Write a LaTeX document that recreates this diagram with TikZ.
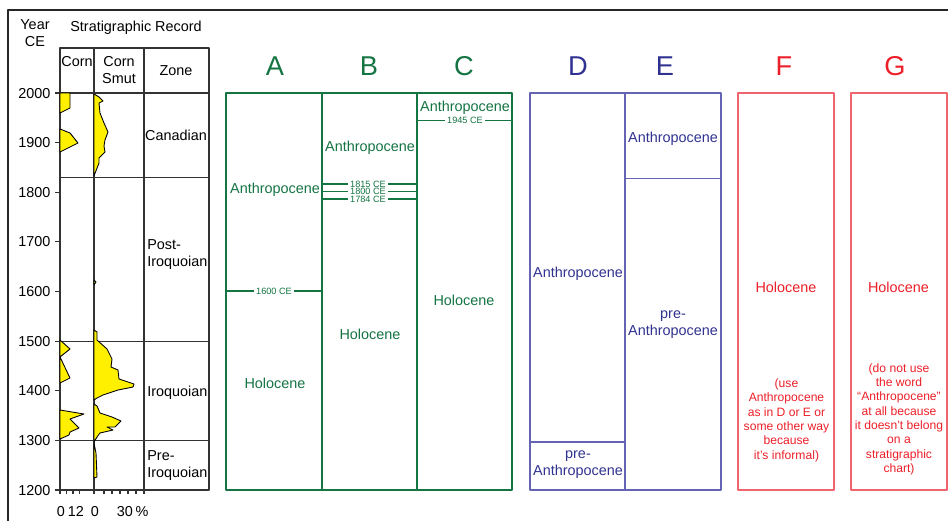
\documentclass[tikz,border=0pt]{standalone}
\usepackage{fontspec}
\setmainfont{Liberation Sans}
\definecolor{grn}{RGB}{20,116,66}
\definecolor{blu}{RGB}{48,50,145}
\definecolor{bluline}{RGB}{100,100,178}
\definecolor{rd}{RGB}{236,30,40}
\definecolor{rdline}{RGB}{240,100,110}
\definecolor{smut}{RGB}{255,240,0}
\newcommand{\yy}[1]{93+(2000-#1)*0.49625}
\tikzset{
  txt/.style={font=\fontsize{8.2}{9.6}\selectfont, inner sep=0pt, text depth=0pt, align=center},
  tag/.style={font=\fontsize{5.2}{5.2}\selectfont, fill=white, inner xsep=1.5pt, inner ysep=0pt},
  letter/.style={font=\fontsize{15.5}{15.5}\selectfont, inner sep=0pt},
  note/.style={font=\fontsize{6.9}{8.15}\selectfont, inner sep=0pt, text depth=0pt, align=center},
  curve/.style={fill=smut, draw=black, line width=0.5pt},
}
\begin{document}
\begin{tikzpicture}[x=0.02cm,y=-0.02cm,line join=round]
\useasboundingbox (0,0) rectangle (948,521);
\draw[line width=1pt,black!85] (948,10)--(8,10)--(8,521);
% stratigraphic record
\node[txt] (year) at (35,33) {Year\\CE};
\node[txt] (record) at (136,26) {Stratigraphic Record};
\begin{scope}[line width=0.6pt,black!80]
\draw (60,48) rectangle (209,490) (94,48)--(94,490) (144,48)--(144,490);
\foreach \z in {2000,1830,1500,1300} \draw (60,{\yy{\z}})--(209,{\yy{\z}});
\foreach \t in {2000,1900,...,1200} {
  \draw (55,{\yy{\t}})--(60,{\yy{\t}});
  \node[txt,anchor=east,text=black] (y\t) at (51,{\yy{\t}}) {\t};
}
\foreach \x in {60,66.5,73,79.5,94,104,112,...,144} \draw (\x,490)--(\x,494);
\end{scope}
\node[txt] (corn) at (77,61) {Corn};
\node[txt] (smut) at (119,70) {Corn\\Smut};
\node[txt] (zone) at (176,71) {Zone};
\node[txt] (canadian) at (176,135) {Canadian};
\node[txt,anchor=west,align=left] (post) at (147,253) {Post-\\Iroquoian};
\node[txt,anchor=west] (iroq) at (147,391) {Iroquoian};
\node[txt,anchor=west,align=left] (pre) at (147,464) {Pre-\\Iroquoian};
\foreach \x/\l [count=\i] in {61/0,76/12,95/0,125/30,142/\%} \node[txt] (ax\i) at (\x,511) {\l};
% corn
\draw[curve] (60,93)--(70,93)--(70,108)--(60,113)--cycle;
\draw[curve] (60,129)--(70,133)--(78,143)--(60,152)--cycle;
\draw[curve] (60,340)--(70,349)--(60,357)--(70,378)--(60,383)--cycle;
\draw[curve] (60,410)--(84,414)--(70,419)--(79,428)--(70,432)--(69,435)--(60,439)--cycle;
% corn smut
\draw[curve] (94,94)--(99,97)--(103,101)--(99,103)--(100,113)--(104,123)--(108,132)--(105,140)--(104,146)--(105,152)--(99,158)--(99,163)--(94,176)--cycle;
\draw[curve] (94,280)--(96,282)--(94,285)--cycle;
\draw[curve] (94,330)--(97,332)--(97,340)--(107,349)--(112,359)--(111,367)--(118,370)--(119,379)--(125,381)--(134,384)--(133,387)--(118,390)--(103,395)--(97,398)--(94,400)--cycle;
\draw[curve] (94,404)--(97,406)--(100,413)--(112,417)--(121,421)--(115,427)--(107,427)--(113,430)--(100,433)--(97,437)--(94,442)--cycle;
\draw[curve] (94,443)--(96,453)--(97,477)--(94,478)--cycle;
% A B C
\begin{scope}[grn,line width=0.7pt]
\draw (226,93) rectangle (512,490) (322,93)--(322,490) (417,93)--(417,490);
\draw (226,291)--(322,291) (417,120.5)--(512,120.5);
\foreach \y in {184,191.5,199} \draw (322,\y)--(417,\y);
\end{scope}
\foreach \l/\x in {A/275,B/369,C/464} \node[letter,text=grn] (\l) at (\x,66) {\l};
\begin{scope}[every node/.style={text=grn}]
\node[txt] (antA) at (275,188) {Anthropocene};
\node[txt] (holA) at (275,383) {Holocene};
\node[tag] (tA) at (274,291) {1600 CE};
\node[txt] (antB) at (370,146) {Anthropocene};
\node[txt] (holB) at (370,334) {Holocene};
\node[tag] (tB1) at (368,184) {1815 CE};
\node[tag] (tB2) at (368,191.5) {1800 CE};
\node[tag] (tB3) at (368,199) {1784 CE};
\node[txt] (antC) at (465,106) {Anthropocene};
\node[tag] (tC) at (465,120.5) {1945 CE};
\node[txt] (holC) at (464,300) {Holocene};
\end{scope}
% D E
\begin{scope}[bluline,line width=0.7pt]
\draw (530,93) rectangle (721,490) (625,93)--(625,490);
\draw (530,442)--(625,442) (625,178.5)--(721,178.5);
\end{scope}
\foreach \l/\x in {D/578,E/665} \node[letter,text=blu] (\l) at (\x,66) {\l};
\node[txt,text=blu] (antD) at (578,272) {Anthropocene};
\node[txt,text=blu] (preD) at (578,463.5) {pre-\\Anthropocene};
\node[txt,text=blu] (antE) at (673,137) {Anthropocene};
\node[txt,text=blu] (preE) at (673,323.5) {pre-\\Anthropocene};
% F G
\draw[rdline,line width=0.7pt] (738,93) rectangle (834,490) (851,93) rectangle (947,490);
\foreach \l/\x in {F/784,G/895} \node[letter,text=rd] (\l) at (\x,66) {\l};
\node[txt,text=rd] (holF) at (786,287) {Holocene};
\node[note,text=rd] (noteF) at (786.5,419) {(use\\Anthropocene\\as in D or E or\\some other way\\because\\it's informal)};
\node[txt,text=rd] (holG) at (898.5,287) {Holocene};
\node[note,text=rd] (noteG) at (899,418) {(do not use\\the word\\``Anthropocene''\\at all because\\it doesn't belong\\on a\\stratigraphic\\chart)};
\end{tikzpicture}
\end{document}
